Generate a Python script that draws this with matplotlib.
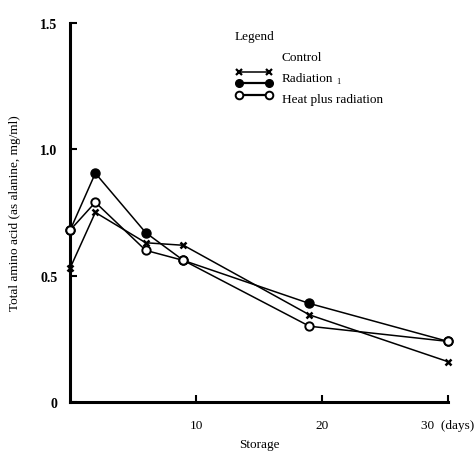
import matplotlib
matplotlib.use("Agg")
import matplotlib.pyplot as plt
from matplotlib.lines import Line2D

plt.rcParams['font.family'] = ['Liberation Serif', 'DejaVu Serif']

# Storage time (days) for each series
days_control = [0, 2, 6, 9, 19, 30]
days_radiation = [0, 2, 6, 9, 19, 30]
days_heat = [0, 2, 6, 9, 19, 30]

# Total amino acid (as alanine, mg/ml)
control = [0.53, 0.75, 0.63, 0.62, 0.345, 0.16]
radiation = [0.68, 0.905, 0.67, 0.56, 0.39, 0.24]
heat_plus_radiation = [0.68, 0.79, 0.60, 0.56, 0.30, 0.24]

y_ticks = [0, 0.5, 1.0, 1.5]
y_tick_labels = ['0', '0.5', '1.0', '1.5']
x_ticks = [10, 20, 30]
x_tick_labels = ['10', '20', '30  (days)']

fig = plt.figure(figsize=(4.74, 4.56), dpi=100)
ax = fig.add_axes([0.148, 0.116, 0.797, 0.832])

lw = 1.1
ax.plot(days_control, control, color='black', lw=lw, marker='x',
        markersize=5, markeredgewidth=1.8, clip_on=False, zorder=3)
ax.plot(days_radiation, radiation, color='black', lw=lw, marker='o',
        markersize=6.5, markerfacecolor='black', clip_on=False, zorder=3)
ax.plot(days_heat, heat_plus_radiation, color='black', lw=lw, marker='o',
        markersize=6, markerfacecolor='white', markeredgewidth=1.4,
        clip_on=False, zorder=4)

ax.set_xlim(0, 30)
ax.set_ylim(0, 1.5)
for side in ('top', 'right'):
    ax.spines[side].set_visible(False)
for side in ('left', 'bottom'):
    ax.spines[side].set_linewidth(2.2)

ax.set_yticks(y_ticks)
ax.set_yticklabels(y_tick_labels, fontsize=10, fontweight='bold')
ax.set_xticks(x_ticks)
ax.set_xticklabels(x_tick_labels, fontsize=9.5)
ax.tick_params(axis='both', direction='in', length=5, width=1.5)
ax.tick_params(axis='y', pad=9)
ax.tick_params(axis='x', pad=12)

ax.set_xlabel('Storage', fontsize=9.5, labelpad=5)
ax.set_ylabel('Total amino acid (as alanine, mg/ml)', fontsize=9.5, labelpad=14)

# Legend block drawn by hand
def fx(px):
    return px / 474.0

def fy(py):
    return 1 - py / 456.0

fig.text(fx(235), fy(37), 'Legend', fontsize=9.5, ha='left', va='center')
fig.text(fx(282), fy(58), 'Control', fontsize=9.5, ha='left', va='center')
fig.text(fx(282), fy(79), 'Radiation', fontsize=9.5, ha='left', va='center')
fig.text(fx(336), fy(82), '1', fontsize=6, ha='left', va='center')
fig.text(fx(282), fy(100), 'Heat plus radiation', fontsize=9.5,
         ha='left', va='center')

fig.add_artist(Line2D([fx(239), fx(269)], [fy(73), fy(73)], color='black',
                      lw=1.1, marker='x', markersize=4.5, markeredgewidth=1.6))
fig.add_artist(Line2D([fx(239), fx(269)], [fy(84), fy(84)], color='black',
                      lw=1.6, marker='o', markersize=5.5,
                      markerfacecolor='black'))
fig.add_artist(Line2D([fx(239), fx(269)], [fy(96), fy(96)], color='black',
                      lw=1.6, marker='o', markersize=5.5,
                      markerfacecolor='white', markeredgewidth=1.4))

fig.savefig('out.png', dpi=100)
